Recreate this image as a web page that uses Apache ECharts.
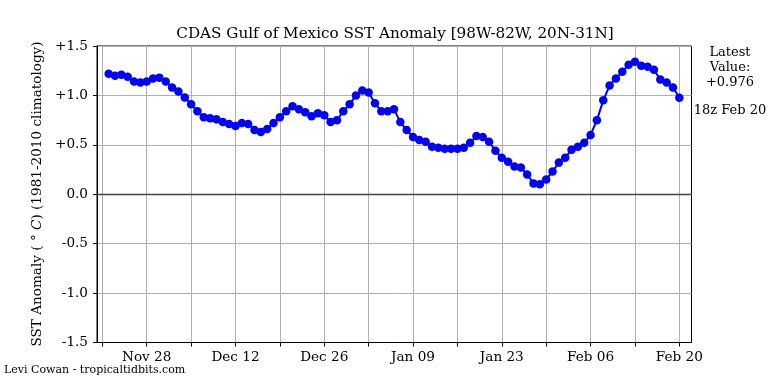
<!DOCTYPE html>
<html>
<head>
<meta charset="utf-8">
<script src="https://cdn.jsdelivr.net/npm/echarts@6/dist/echarts.min.js"></script>
<style>
html,body{margin:0;padding:0;background:#fff;}
#c{width:768px;height:384px;}
</style>
</head>
<body>
<div id="c"></div>
<script>
// Daily SST anomaly, Nov 22 .. Feb 20 (day index 1..91, day 0 = Nov 21)
const firstDay = 1;
const values = [
  1.22, 1.20, 1.21, 1.19, 1.14, 1.13, 1.14, 1.17, 1.18, 1.14,
  1.08, 1.04, 0.98, 0.91, 0.84, 0.78, 0.77, 0.76, 0.73, 0.71,
  0.69, 0.72, 0.71, 0.65, 0.63, 0.66, 0.72, 0.78, 0.84, 0.89,
  0.86, 0.83, 0.79, 0.82, 0.80, 0.73, 0.75, 0.84, 0.91, 1.00,
  1.05, 1.03, 0.92, 0.84, 0.84, 0.86, 0.73, 0.65, 0.58, 0.55,
  0.53, 0.48, 0.47, 0.46, 0.46, 0.46, 0.47, 0.52, 0.59, 0.58,
  0.53, 0.44, 0.37, 0.33, 0.28, 0.27, 0.20, 0.11, 0.10, 0.15,
  0.23, 0.32, 0.37, 0.45, 0.48, 0.52, 0.60, 0.75, 0.95, 1.10,
  1.17, 1.24, 1.31, 1.34, 1.30, 1.29, 1.26, 1.16, 1.13, 1.08,
  0.976
];
const tickDays = [0, 7, 14, 21, 28, 35, 42, 49, 56, 63, 70, 77, 84, 91];
const labelDays = [7, 21, 35, 49, 63, 77, 91];
const tickLabels = ['Nov 28', 'Dec 12', 'Dec 26', 'Jan 09', 'Jan 23', 'Feb 06', 'Feb 20'];
const yTicks = ['-1.5', '-1.0', '-0.5', '0.0', '+0.5', '+1.0', '+1.5'];
const titleText = 'CDAS Gulf of Mexico SST Anomaly [98W-82W, 20N-31N]';
const latestText = 'Latest\nValue:\n+0.976';
const timeText = '18z Feb 20';
const creditText = 'Levi Cowan - tropicaltidbits.com';

const FONT = '"DejaVu Serif", serif';
const chart = echarts.init(document.getElementById('c'), null, {renderer: 'canvas'});
const seriesData = values.map((v, i) => [firstDay + i, v]);

chart.setOption({
  animation: false,
  backgroundColor: '#fff',
  title: {
    text: titleText,
    left: 390, top: 22, textAlign: 'center',
    textStyle: {fontFamily: FONT, fontSize: 15.2, fontWeight: 'normal', color: '#000'}
  },
  grid: {
    left: 97, right: 76.5, top: 46, bottom: 41.5,
    show: true, borderColor: '#000', borderWidth: 1, backgroundColor: 'transparent'
  },
  xAxis: {
    type: 'value',
    min: -0.84, max: 92.92,
    axisLine: {show: true, onZero: false, lineStyle: {color: '#000', width: 1}},
    axisTick: {show: true, inside: false, length: 4, customValues: tickDays, lineStyle: {color: '#000', width: 1}},
    axisLabel: {
      show: true, margin: 8, customValues: labelDays,
      fontFamily: FONT, fontSize: 13.6, color: '#000',
      formatter: v => { const k = labelDays.indexOf(Math.round(v)); return k >= 0 ? tickLabels[k] : ''; }
    },
    splitLine: {show: true, lineStyle: {color: '#b0b0b0', width: 1}}
  },
  yAxis: {
    type: 'value',
    min: -1.5, max: 1.5, interval: 0.5,
    axisLine: {show: true, onZero: false, lineStyle: {color: '#000', width: 1}},
    axisTick: {show: true, inside: false, length: 4, lineStyle: {color: '#000', width: 1}},
    axisLabel: {
      margin: 9, fontFamily: FONT, fontSize: 13.6, color: '#000',
      formatter: v => yTicks[Math.round((v + 1.5) / 0.5)]
    },
    splitLine: {show: true, lineStyle: {color: '#b0b0b0', width: 1}}
  },
  series: [{
    type: 'line',
    data: seriesData,
    symbol: 'circle',
    symbolSize: 8.5,
    showSymbol: true,
    lineStyle: {color: '#0000ff', width: 2},
    itemStyle: {color: '#0000ff'},
    z: 5,
    markLine: {
      silent: true,
      symbol: 'none',
      label: {show: false},
      lineStyle: {color: '#444', width: 1.3, type: 'solid'},
      data: [{yAxis: 0}],
      z: 3
    }
  }],
  graphic: [
    {
      type: 'text', x: 37, y: 194, rotation: Math.PI / 2,
      style: {
        text: 'SST Anomaly ( ° {i|C}) (1981-2010 climatology)',
        align: 'center', verticalAlign: 'middle',
        fontFamily: FONT, fontSize: 13.6, fill: '#000',
        rich: {i: {fontFamily: FONT, fontSize: 13.6, fontStyle: 'italic', fill: '#000'}}
      }
    },
    {
      type: 'text', x: 730, y: 45,
      style: {text: latestText, align: 'center', verticalAlign: 'top', lineHeight: 15,
        fontFamily: FONT, fontSize: 13, fill: '#000'}
    },
    {
      type: 'text', x: 730, y: 111,
      style: {text: timeText, align: 'center', verticalAlign: 'middle',
        fontFamily: FONT, fontSize: 13, fill: '#000'}
    },
    {
      type: 'text', x: 4, y: 370,
      style: {text: creditText, align: 'left', verticalAlign: 'middle',
        fontFamily: FONT, fontSize: 11, fill: '#000'}
    }
  ]
});
</script>
</body>
</html>
